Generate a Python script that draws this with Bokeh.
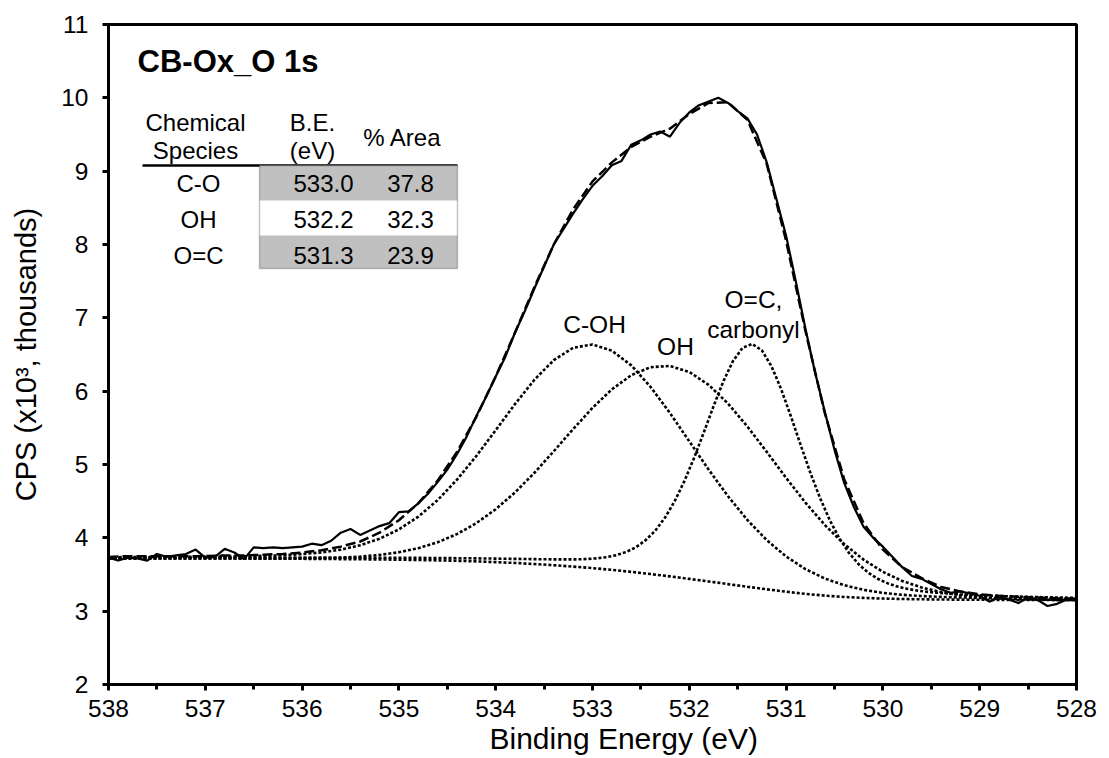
from bokeh.plotting import figure
from bokeh.models import Range1d, FixedTicker, Label, BoxAnnotation, Title
from bokeh.embed import file_html
from bokeh.resources import INLINE

# ---------------- data ----------------
energy_raw = [538.0, 537.9, 537.8, 537.7, 537.6, 537.5, 537.4, 537.3, 537.2, 537.1,
              537.0, 536.9, 536.8, 536.7, 536.6, 536.5, 536.4, 536.3, 536.2, 536.1,
              536.0, 535.9, 535.8, 535.7, 535.6, 535.5, 535.4, 535.3, 535.2, 535.1,
              535.0, 534.9, 534.8, 534.7, 534.6, 534.5, 534.4, 534.3, 534.2, 534.1,
              534.0, 533.9, 533.8, 533.7, 533.6, 533.5, 533.4, 533.3, 533.2, 533.1,
              533.0, 532.9, 532.8, 532.7, 532.6, 532.5, 532.4, 532.3, 532.2, 532.1,
              532.0, 531.9, 531.8, 531.7, 531.6, 531.5, 531.4, 531.3, 531.2, 531.1,
              531.0, 530.9, 530.8, 530.7, 530.6, 530.5, 530.4, 530.3, 530.2, 530.1,
              530.0, 529.9, 529.8, 529.7, 529.6, 529.5, 529.4, 529.3, 529.2, 529.1,
              529.0, 528.9, 528.8, 528.7, 528.6, 528.5, 528.4, 528.3, 528.2, 528.1,
              528.0]
cps_raw = [3.73, 3.69, 3.73, 3.72, 3.69, 3.78, 3.74, 3.76, 3.78, 3.84,
           3.73, 3.74, 3.85, 3.80, 3.71, 3.87, 3.86, 3.87, 3.86, 3.87,
           3.88, 3.92, 3.90, 3.96, 4.07, 4.12, 4.04, 4.10, 4.16, 4.20,
           4.35, 4.36, 4.47, 4.60, 4.76, 4.93, 5.14, 5.38, 5.66, 5.92,
           6.20, 6.47, 6.80, 7.09, 7.40, 7.70, 8.00, 8.21, 8.42, 8.62,
           8.80, 8.93, 9.08, 9.14, 9.36, 9.42, 9.50, 9.54, 9.47, 9.66,
           9.80, 9.90, 9.95, 10.00, 9.93, 9.82, 9.72, 9.50, 9.12, 8.62,
           8.12, 7.50, 6.85, 6.25, 5.72, 5.20, 4.75, 4.42, 4.15, 4.00,
           3.88, 3.74, 3.60, 3.48, 3.44, 3.37, 3.30, 3.25, 3.27, 3.24,
           3.21, 3.13, 3.19, 3.16, 3.11, 3.19, 3.15, 3.07, 3.10, 3.16,
           3.15]

energy_fit = [538.0, 537.8, 537.6, 537.4, 537.2, 537.0, 536.8, 536.6, 536.4, 536.2,
              536.0, 535.8, 535.6, 535.4, 535.2, 535.0, 534.8, 534.6, 534.4, 534.2,
              534.0, 533.8, 533.6, 533.4, 533.2, 533.0, 532.8, 532.6, 532.4, 532.2,
              532.0, 531.8, 531.6, 531.4, 531.2, 531.0, 530.8, 530.6, 530.4, 530.2,
              530.0, 529.8, 529.6, 529.4, 529.2, 529.0, 528.8, 528.6, 528.4, 528.2,
              528.0]
cps_envelope = [3.74, 3.75, 3.75, 3.75, 3.75, 3.75, 3.76, 3.76, 3.77, 3.78,
                3.80, 3.83, 3.88, 3.95, 4.07, 4.24, 4.47, 4.78, 5.17, 5.65,
                6.20, 6.80, 7.42, 8.00, 8.48, 8.86, 9.12, 9.33, 9.47, 9.58,
                9.78, 9.93, 9.94, 9.70, 9.10, 8.05, 6.82, 5.70, 4.80, 4.20,
                3.84, 3.60, 3.45, 3.33, 3.27, 3.23, 3.21, 3.195, 3.185, 3.175,
                3.17]
cps_background = [3.720, 3.720, 3.720, 3.720, 3.720, 3.719, 3.718, 3.717, 3.716, 3.715,
                  3.714, 3.712, 3.710, 3.708, 3.705, 3.702, 3.698, 3.693, 3.687, 3.679,
                  3.669, 3.657, 3.643, 3.627, 3.608, 3.587, 3.563, 3.536, 3.506, 3.474,
                  3.440, 3.405, 3.369, 3.333, 3.298, 3.265, 3.236, 3.212, 3.194, 3.181,
                  3.172, 3.166, 3.162, 3.159, 3.157, 3.155, 3.154, 3.153, 3.152, 3.151,
                  3.150]
cps_c_oh = [3.735, 3.737, 3.738, 3.740, 3.741, 3.743, 3.745, 3.748, 3.754, 3.763,
            3.778, 3.801, 3.839, 3.899, 3.988, 4.115, 4.289, 4.514, 4.793, 5.116,
            5.468, 5.825, 6.156, 6.423, 6.592, 6.637, 6.552, 6.352, 6.058, 5.702,
            5.316, 4.930, 4.567, 4.243, 3.969, 3.746, 3.573, 3.445, 3.354, 3.291,
            3.250, 3.223, 3.206, 3.195, 3.187, 3.180, 3.177, 3.174, 3.171, 3.169,
            3.167]
cps_oh = [3.720, 3.720, 3.720, 3.720, 3.720, 3.719, 3.719, 3.718, 3.718, 3.718,
          3.720, 3.723, 3.731, 3.744, 3.767, 3.803, 3.859, 3.939, 4.051, 4.201,
          4.390, 4.620, 4.887, 5.180, 5.482, 5.772, 6.025, 6.217, 6.327, 6.344,
          6.261, 6.086, 5.831, 5.518, 5.172, 4.818, 4.480, 4.175, 3.915, 3.703,
          3.536, 3.412, 3.323, 3.260, 3.219, 3.191, 3.175, 3.164, 3.158, 3.154,
          3.151]

energy_oc = [538.0, 537.0, 536.0, 535.5, 535.0, 534.6, 534.2, 533.8,
             533.45, 533.35, 533.25, 533.15, 533.05, 532.95, 532.85, 532.75, 532.65, 532.55,
             532.45, 532.35, 532.25, 532.15, 532.05, 531.95, 531.85, 531.75, 531.65, 531.55,
             531.45, 531.35, 531.25, 531.15, 531.05, 530.95, 530.85, 530.75, 530.65, 530.55,
             530.45, 530.35, 530.25, 530.15, 530.05, 529.95, 529.85, 529.75, 529.65, 529.55,
             529.45, 529.2, 528.8, 528.4, 528.0]
cps_oc = [3.728, 3.730, 3.730, 3.729, 3.728, 3.725, 3.720, 3.713,
          3.707, 3.706, 3.706, 3.707, 3.712, 3.721, 3.737, 3.765, 3.808, 3.873,
          3.969, 4.100, 4.277, 4.502, 4.776, 5.092, 5.438, 5.793, 6.129, 6.408,
          6.591, 6.644, 6.556, 6.338, 6.024, 5.655, 5.267, 4.890, 4.545, 4.244,
          3.994, 3.793, 3.639, 3.523, 3.439, 3.379, 3.336, 3.305, 3.282, 3.265,
          3.253, 3.229, 3.206, 3.192, 3.181]

x_ticks = [538, 537, 536, 535, 534, 533, 532, 531, 530, 529, 528]
x_minor = [537.5, 536.5, 535.5, 534.5, 533.5, 532.5, 531.5, 530.5, 529.5, 528.5]
y_ticks = [2, 3, 4, 5, 6, 7, 8, 9, 10, 11]

title_text = "CB-Ox_O 1s"
table_header = ["Chemical", "Species", "B.E.", "(eV)", "% Area"]
species = ["C-O", "OH", "O=C"]
binding_energy = ["533.0", "532.2", "531.3"]
percent_area = ["37.8", "32.3", "23.9"]
peak_labels = ["C-OH", "OH", "O=C,", "carbonyl"]
x_title = "Binding Energy (eV)"
y_title = "CPS (x10\u00b3, thousands)"

# ---------------- figure ----------------
FONT = "Liberation Sans"
p = figure(frame_width=968, frame_height=660,
           x_range=Range1d(538, 528), y_range=Range1d(2, 11),
           output_backend="svg", toolbar_location=None,
           min_border_left=108, min_border_right=25,
           min_border_top=24, min_border_bottom=74,
           background_fill_color="white", border_fill_color="white")
p.xgrid.visible = False
p.ygrid.visible = False
p.outline_line_color = "black"
p.outline_line_width = 3
p.outline_line_alpha = 1.0

p.xaxis.ticker = FixedTicker(ticks=x_ticks, minor_ticks=x_minor)
p.yaxis.ticker = FixedTicker(ticks=y_ticks, minor_ticks=[])
for ax in (p.xaxis[0], p.yaxis[0]):
    ax.axis_line_width = 3
    ax.axis_line_color = "black"
    ax.major_tick_line_width = 3
    ax.major_tick_line_color = "black"
    ax.major_tick_in = 0
    ax.major_tick_out = 6
    ax.minor_tick_line_width = 3
    ax.minor_tick_line_color = "black"
    ax.minor_tick_in = 0
    ax.minor_tick_out = 5
    ax.major_label_text_font = FONT
    ax.major_label_text_font_size = "24.5px"
    ax.major_label_text_color = "black"
p.xaxis.major_label_standoff = 9
p.yaxis.major_label_standoff = 14

p.yaxis.axis_label = y_title
p.yaxis.axis_label_text_font = FONT
p.yaxis.axis_label_text_font_size = "29px"
p.yaxis.axis_label_text_font_style = "normal"
p.yaxis.axis_label_text_color = "black"
p.yaxis.axis_label_standoff = 16

p.add_layout(Title(text=x_title, align="left", offset=381, standoff=0,
                   text_font=FONT, text_font_size="30px", text_font_style="normal",
                   text_color="black"), "below")

# ---------------- table (drawn first) ----------------
p.add_layout(BoxAnnotation(left=536.44, right=534.395, top=9.077, bottom=8.60,
                           fill_color="#c0c0c0", fill_alpha=1, line_color=None))
p.add_layout(BoxAnnotation(left=536.44, right=534.395, top=8.123, bottom=7.673,
                           fill_color="#c0c0c0", fill_alpha=1, line_color=None))
p.add_layout(BoxAnnotation(left=536.44, right=534.395, top=9.077, bottom=7.673,
                           fill_alpha=0, line_color="#404040", line_width=1.5))
p.line([537.649, 534.395], [9.077, 9.077], line_color="black", line_width=2.5)

def lab(x, y, t, size="24px", style="normal", align="center"):
    p.add_layout(Label(x=x, y=y, text=t, text_font=FONT, text_font_size=size,
                       text_font_style=style, text_align=align,
                       text_baseline="middle", text_color="black"))

lab(537.70, 10.49, title_text, size="31px", style="bold", align="left")
lab(537.101, 9.664, table_header[0])
lab(537.101, 9.282, table_header[1])
lab(535.893, 9.664, table_header[2])
lab(535.893, 9.282, table_header[3])
lab(534.963, 9.459, table_header[4])
row_y = [8.832, 8.341, 7.85]
for i in range(3):
    lab(537.07, row_y[i], species[i])
    lab(535.779, row_y[i], binding_energy[i])
    lab(534.88, row_y[i], percent_area[i])

# ---------------- curves ----------------
dot = dict(line_color="black", line_width=2.6, line_dash="3 2")
p.line(energy_fit, cps_background, **dot)
p.line(energy_fit, cps_c_oh, **dot)
p.line(energy_fit, cps_oh, **dot)
p.line(energy_oc, cps_oc, **dot)
p.line(energy_fit, cps_envelope, line_color="black", line_width=2.5, line_dash="10 4")
p.line(energy_raw, cps_raw, line_color="black", line_width=2.2)

# peak labels
lab(532.979, 6.909, peak_labels[0], size="24.5px")
lab(532.143, 6.609, peak_labels[1], size="24.5px")
lab(531.337, 7.25, peak_labels[2], size="24.5px")
lab(531.337, 6.841, peak_labels[3], size="24.5px")

open("out.html", "w").write(file_html(p, INLINE))
